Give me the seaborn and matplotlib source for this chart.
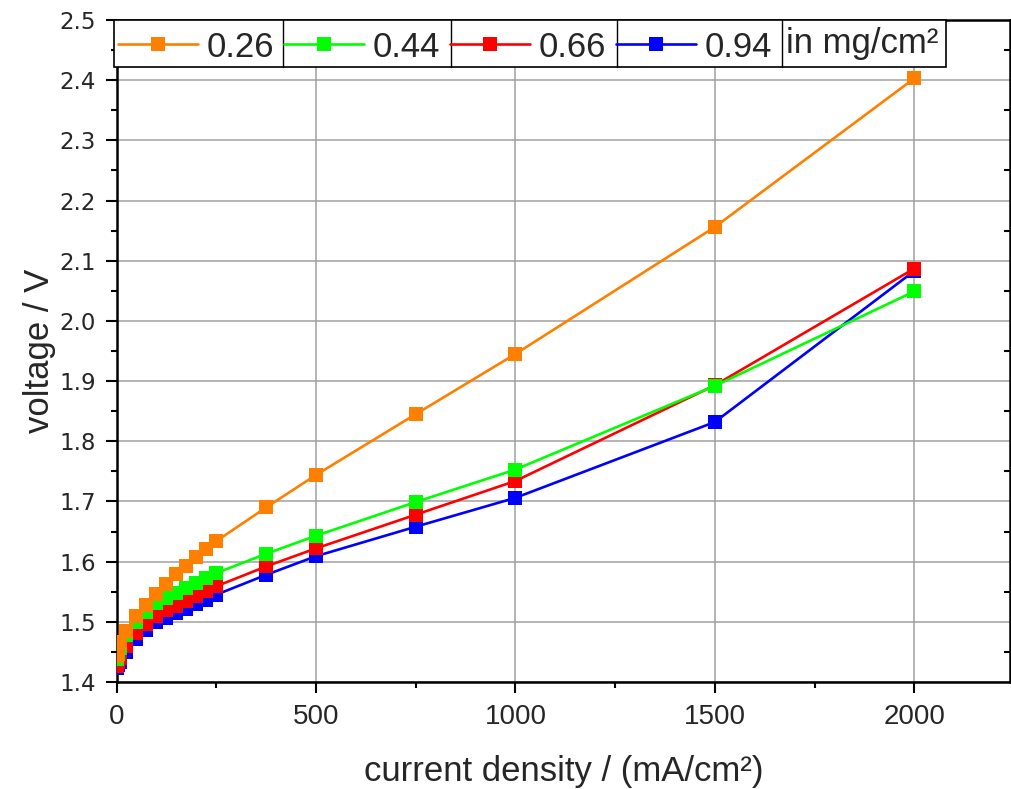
import numpy as np
import pandas as pd
import matplotlib
matplotlib.use("Agg")
import matplotlib.pyplot as plt
import seaborn as sns
from matplotlib.patches import Rectangle
from matplotlib.ticker import MultipleLocator, FormatStrFormatter

# ---- data ----
current = [2, 5, 10, 25, 50, 75, 100, 125, 150, 175, 200, 225, 250, 375, 500, 750, 1000, 1500, 2000]
v_026 = [1.443, 1.455, 1.467, 1.484, 1.510, 1.528, 1.547, 1.563, 1.579, 1.593, 1.607, 1.621, 1.634,
         1.690, 1.744, 1.845, 1.945, 2.156, 2.403]
v_044 = [1.439, 1.447, 1.456, 1.478, 1.500, 1.517, 1.531, 1.540, 1.548, 1.556, 1.565, 1.573, 1.581,
         1.613, 1.643, 1.699, 1.753, 1.892, 2.049]
v_066 = [1.427, 1.433, 1.440, 1.459, 1.481, 1.497, 1.509, 1.519, 1.527, 1.535, 1.543, 1.551, 1.559,
         1.592, 1.622, 1.678, 1.734, 1.893, 2.087]
v_094 = [1.424, 1.428, 1.434, 1.450, 1.472, 1.487, 1.499, 1.507, 1.515, 1.522, 1.529, 1.537, 1.545,
         1.578, 1.609, 1.658, 1.706, 1.832, 2.083]
labels = ["0.26", "0.44", "0.66", "0.94"]
colors = ["#FF8000", "#00FF00", "#FF0000", "#0000FF"]
unit_label = "in mg/cm²"
x_label = "current density / (mA/cm²)"
y_label = "voltage / V"

series = [v_026, v_044, v_066, v_094]

sns.set_style("white")
plt.rcParams["font.family"] = ["Liberation Sans", "DejaVu Sans"]
plt.rcParams["xtick.bottom"] = True
plt.rcParams["ytick.left"] = True

fig = plt.figure(figsize=(10.11, 7.89), dpi=100)
ax = fig.add_axes([116.5 / 1011, (789 - 682) / 789, 893.5 / 1011, 662 / 789])

# draw in reverse order so 0.26 sits on top
for i in reversed(range(4)):
    df = pd.DataFrame({"x": current, "y": series[i]})
    sns.lineplot(data=df, x="x", y="y", ax=ax, color=colors[i], marker="s",
                 markersize=10, markeredgewidth=0, linewidth=1.9,
                 label=labels[i], zorder=3 + (4 - i))

ax.set_xlim(0, 2240)
ax.set_ylim(1.4, 2.5)

ax.xaxis.set_major_locator(MultipleLocator(500))
ax.xaxis.set_minor_locator(MultipleLocator(250))
ax.yaxis.set_major_locator(MultipleLocator(0.1))
ax.yaxis.set_minor_locator(MultipleLocator(0.05))
ax.yaxis.set_major_formatter(FormatStrFormatter("%.1f"))

ax.grid(True, which="major", color="#a0a0a0", linewidth=1.1)
ax.set_axisbelow(True)

for s in ax.spines.values():
    s.set_color("black")
    s.set_linewidth(1.8)

ax.tick_params(axis="both", which="both", direction="out", color="black", width=1.5,
               bottom=True, left=True)
ax.tick_params(axis="both", which="major", length=8)
ax.tick_params(axis="both", which="minor", length=4.5)
ax.tick_params(axis="y", which="both", right=True, labelright=False)
ax.tick_params(axis="x", which="both", top=False)
# right side ticks point inward
for t in ax.yaxis.get_major_ticks() + ax.yaxis.get_minor_ticks():
    t.tick2line.set_marker(matplotlib.lines.TICKLEFT)

for lab in ax.get_yticklabels():
    lab.set_family(["DejaVu Sans"])
    lab.set_fontsize(16.5)
for lab in ax.get_xticklabels():
    lab.set_family(["Liberation Sans Narrow", "Liberation Sans"])
    lab.set_fontsize(20)
ax.tick_params(axis="y", pad=7)
ax.tick_params(axis="x", pad=8)

ax.set_xlabel(x_label, fontsize=25, labelpad=18)
ax.set_ylabel(y_label, fontsize=25, labelpad=2)

# legend box with separators
box_x0, box_y0, box_w, box_h = -0.003, 0.929, 0.931, 0.071
ax.add_patch(Rectangle((box_x0, box_y0), box_w, box_h, transform=ax.transAxes,
                       facecolor="white", edgecolor="black", linewidth=1.2,
                       zorder=20, clip_on=False))
seps = [0.1863, 0.3744, 0.5602, 0.7449]
for f in seps:
    ax.plot([f, f], [box_y0, box_y0 + box_h], transform=ax.transAxes,
            color="black", linewidth=1.0, zorder=21, clip_on=False)

handles, labs = ax.get_legend_handles_labels()
order = [labs.index(l) for l in labels]
leg = ax.legend([handles[k] for k in order], [labs[k] for k in order],
                ncol=4, mode="expand", loc="lower left",
                bbox_to_anchor=(box_x0 + 0.001, box_y0, seps[-1] - box_x0 - 0.008, box_h),
                frameon=False, borderaxespad=0, borderpad=0.1,
                handlelength=2.3, handletextpad=0.25, columnspacing=0.2,
                fontsize=25, numpoints=1)
leg.set_zorder(22)
ax.text(seps[-1] + 0.004, box_y0 + box_h / 2, unit_label, transform=ax.transAxes,
        ha="left", va="center", fontsize=25, zorder=23)

fig.savefig("out.png", dpi=100)
